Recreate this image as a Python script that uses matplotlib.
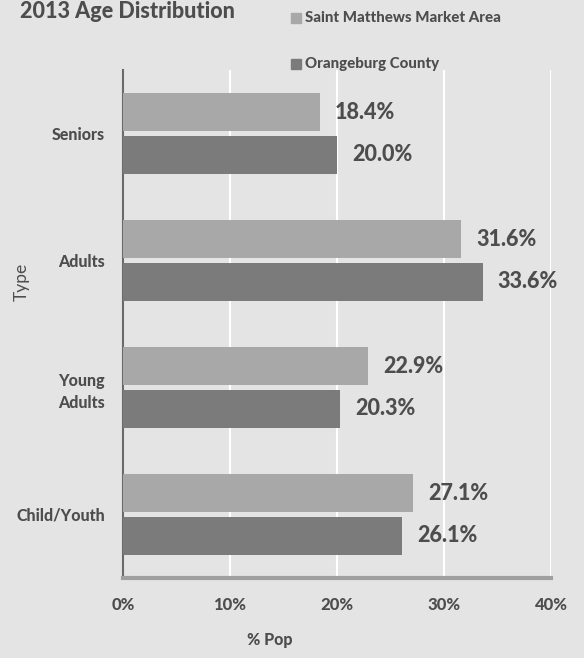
import matplotlib
matplotlib.use("Agg")
import matplotlib.pyplot as plt
import numpy as np

categories = ["Child/Youth", "Young\nAdults", "Adults", "Seniors"]
saint_matthews = [27.1, 22.9, 31.6, 18.4]
orangeburg = [26.1, 20.3, 33.6, 20.0]
series_names = ["Saint Matthews Market Area", "Orangeburg County"]
xticks = [0, 10, 20, 30, 40]

plt.rcParams['font.family'] = ['Lato', 'DejaVu Sans']
txt = "#4d4d4d"
bg = "#e4e4e4"
c1 = "#a8a8a8"
c2 = "#7b7b7b"
W = 'black'

fig = plt.figure(figsize=(5.84, 6.58), dpi=100, facecolor=bg)
ax = fig.add_axes([0.2106, 0.1216, 0.7329, 0.772])
ax.set_facecolor(bg)

y = np.arange(len(categories))
h = 0.30
gap = 0.016
b1 = ax.barh(y + h/2 + gap, saint_matthews, height=h, color=c1, zorder=3)
b2 = ax.barh(y - h/2 - gap, orangeburg, height=h, color=c2, zorder=3)

for bars, vals in ((b1, saint_matthews), (b2, orangeburg)):
    for b, v in zip(bars, vals):
        ax.annotate(f"{v:.1f}%", (v, b.get_y() + b.get_height()/2), xytext=(11, 0),
                    textcoords='offset points', va='center', ha='left',
                    fontsize=15.5, fontweight=W, color=txt, zorder=4)

ax.set_xlim(0, 40)
ax.set_ylim(-0.5, 3.5)
ax.set_xticks(xticks)
ax.set_xticklabels([f"{t}%" for t in xticks], fontsize=12, fontweight=W, color=txt)
ax.set_yticks(y)
ax.set_yticklabels(categories, fontsize=11.5, fontweight=W, color=txt, linespacing=1.5)
ax.tick_params(axis='x', length=0, pad=14)
ax.tick_params(axis='y', length=0, pad=13)
ax.grid(axis='x', color='white', linewidth=1.5, zorder=0)
for s in ['top', 'right']:
    ax.spines[s].set_visible(False)
ax.spines['left'].set_color('#6a6a6a')
ax.spines['left'].set_linewidth(1.5)
ax.spines['bottom'].set_color('#a0a0a0')
ax.spines['bottom'].set_linewidth(3)

fig.text(270/584, 1 - 640/658, "% Pop", fontsize=11.5, fontweight=W, color=txt,
         va='center', ha='center')
fig.text(22/584, 1 - 282/658, "Type", fontsize=12.5, color=txt, va='center', ha='center',
         rotation=90)

fig.text(20/584, 1 - 11/658, "2013 Age Distribution", fontsize=15.5, fontweight=W,
         color=txt, va='center', ha='left')

for i, (name, col) in enumerate(zip(series_names, [c1, c2])):
    yy = 1 - (18 + 46*i)/658
    fig.patches.append(plt.Rectangle((291/584, yy - 5/658), 10/584, 10/658,
                                     transform=fig.transFigure, color=col, figure=fig))
    fig.text(305/584, yy, name, fontsize=10.8, fontweight=W, color=txt, va='center', ha='left')

fig.savefig("out.png", dpi=100, facecolor=bg)
